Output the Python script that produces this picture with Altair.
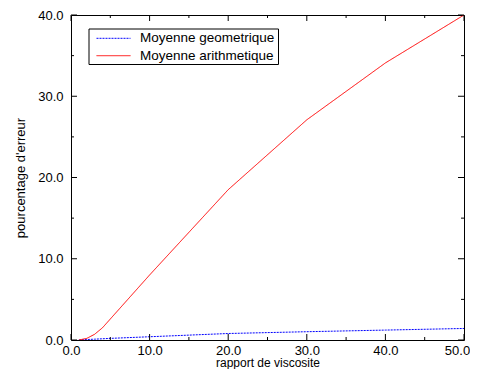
import altair as alt
import pandas as pd

# Data
geo_x = [1, 2, 3, 4, 5, 10, 20, 30, 40, 50]
geo_y = [0.0, 0.06, 0.1, 0.15, 0.2, 0.4, 0.8, 1.02, 1.22, 1.42]
ari_x = [1, 2, 3, 4, 10, 20, 30, 40, 50]
ari_y = [0.0, 0.2, 0.7, 1.5, 8.0, 18.5, 27.1, 34.1, 40.0]
series_names = ["Moyenne geometrique", "Moyenne arithmetique"]
series_colors = ["#0000ff", "#ff0000"]
series_dashes = [[2, 1], [1, 0]]

x_major = [0, 10, 20, 30, 40, 50]
x_minor = [5, 15, 25, 35, 45]
y_major = [0, 10, 20, 30, 40]
y_minor = [5, 15, 25, 35]

W, H = 393, 325
FONT = "Liberation Sans"

df = pd.concat([
    pd.DataFrame({"x": geo_x, "y": geo_y, "s": series_names[0], "o": range(len(geo_x))}),
    pd.DataFrame({"x": ari_x, "y": ari_y, "s": series_names[1], "o": range(len(ari_x))}),
])

xs = alt.Scale(domain=[0, 50], nice=False, zero=False)
ys = alt.Scale(domain=[0, 40], nice=False, zero=False)
color_scale = alt.Scale(domain=series_names, range=series_colors)
dash_scale = alt.Scale(domain=series_names, range=series_dashes)

xaxis = alt.Axis(values=x_major, format=".1f", ticks=False, domain=False, grid=False,
                 labelFlush=False, labelOverlap=False,
                 labelOffset={"condition": {"test": "datum.value == 50", "value": -7}, "value": 0},
                 labelPadding=4, labelFontSize=13, labelFont=FONT, labelColor="black",
                 title="rapport de viscosite", titleFontSize=12, titleFont=FONT,
                 titleFontWeight="normal", titleColor="black",
                 titleBaseline="alphabetic", titleY=26.5)
yaxis = alt.Axis(values=y_major, format=".1f", ticks=False, domain=False, grid=False,
                 labelFlush=False, labelOverlap=False,
                 labelPadding=8, labelFontSize=13, labelFont=FONT, labelColor="black",
                 title="pourcentage d'erreur", titleFontSize=13, titleFont=FONT,
                 titleFontWeight="normal", titleColor="black", titlePadding=10)

lines = alt.Chart(df).mark_line(strokeWidth=1, clip=True).encode(
    x=alt.X("x:Q", scale=xs, axis=xaxis),
    y=alt.Y("y:Q", scale=ys, axis=yaxis),
    color=alt.Color("s:N", scale=color_scale, legend=None),
    strokeDash=alt.StrokeDash("s:N", scale=dash_scale, legend=None),
    order="o:Q",
)

tx_maj = pd.DataFrame({"v": x_major})
tx_min = pd.DataFrame({"v": x_minor})
ty_maj = pd.DataFrame({"v": y_major})
ty_min = pd.DataFrame({"v": y_minor})

def xticks(data, length):
    bottom = alt.Chart(data).mark_rule(color="black", strokeWidth=1).encode(
        x=alt.X("v:Q", scale=xs), y=alt.value(H), y2=alt.value(H - length))
    top = alt.Chart(data).mark_rule(color="black", strokeWidth=1).encode(
        x=alt.X("v:Q", scale=xs), y=alt.value(0), y2=alt.value(length))
    return bottom + top

def yticks(data, length):
    left = alt.Chart(data).mark_rule(color="black", strokeWidth=1).encode(
        y=alt.Y("v:Q", scale=ys, axis=None), x=alt.value(0), x2=alt.value(length))
    right = alt.Chart(data).mark_rule(color="black", strokeWidth=1).encode(
        y=alt.Y("v:Q", scale=ys, axis=None), x=alt.value(W), x2=alt.value(W - length))
    return left + right

# Legend (box + samples + labels)
leg = pd.DataFrame({"s": series_names, "i": [0, 1]})
leg_y = alt.Y("i:Q", scale=alt.Scale(domain=[0, 1], range=[23.3, 40.7]), axis=None)
box = alt.Chart(pd.DataFrame({"b": [0]})).mark_rect(
    fill="white", stroke="black", strokeWidth=1).encode(
    x=alt.value(18), x2=alt.value(207.5), y=alt.value(14), y2=alt.value(49.5))
samples = alt.Chart(leg).mark_rule(strokeWidth=1).encode(
    x=alt.value(25.5), x2=alt.value(59.5), y=leg_y,
    color=alt.Color("s:N", scale=color_scale, legend=None),
    strokeDash=alt.StrokeDash("s:N", scale=dash_scale, legend=None))
labels = alt.Chart(leg).mark_text(align="left", baseline="middle", font=FONT,
                                  fontSize=13.5, color="black").encode(
    x=alt.value(69), y=leg_y, text="s:N")

chart = alt.layer(
    lines,
    xticks(tx_maj, 6), xticks(tx_min, 3),
    yticks(ty_maj, 6), yticks(ty_min, 3),
    box, samples, labels,
).resolve_scale(y="independent").properties(
    width=W, height=H,
    autosize=alt.AutoSizeParams(type="none"),
    padding={"left": 63, "top": 7, "right": 6, "bottom": 29},
    background="white",
).configure_view(stroke="black", strokeWidth=1)

chart.save("out.html", embed_options={"renderer": "svg", "actions": False})
